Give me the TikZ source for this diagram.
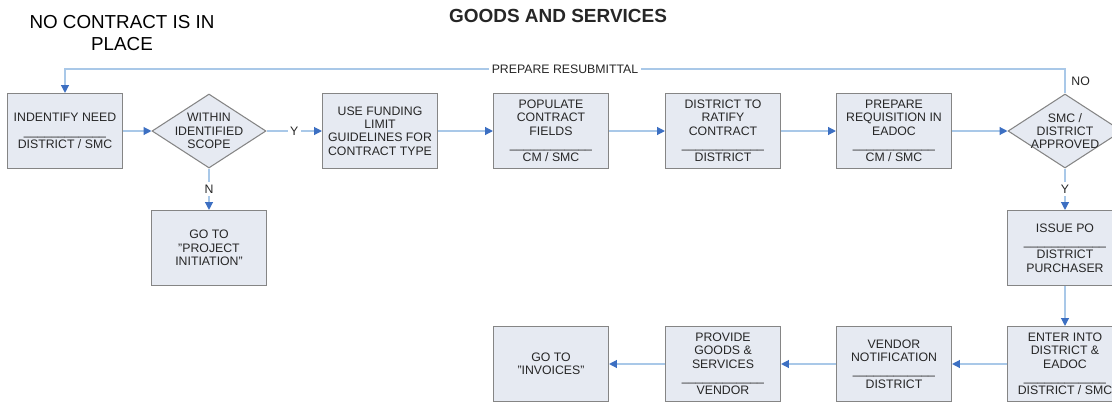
\documentclass[tikz,border=0pt]{standalone}
\usepackage{fontspec}
\setmainfont{Liberation Sans}
\usepackage{tikz}
\usetikzlibrary{shapes.geometric, arrows.meta, positioning}

\definecolor{boxfill}{HTML}{E6EAF2}
\definecolor{boxline}{HTML}{858585}
\definecolor{flowline}{HTML}{A9C8E8}
\definecolor{tipblue}{HTML}{3C6FC2}
\definecolor{inktext}{HTML}{262626}

\newcommand{\roleline}{\_\_\_\_\_\_\_\_\_\_\_\_}

\begin{document}
\begin{tikzpicture}[
        font=\fontsize{7}{7.6}\selectfont, text=inktext,
        task/.style={draw=boxline, fill=boxfill, line width=0.6pt, minimum width=2.3cm, minimum height=1.5cm, inner sep=0pt, align=center},
        decision/.style={draw=boxline, fill=boxfill, line width=0.6pt, diamond, minimum width=2.28cm, minimum height=1.48cm, inner sep=0pt},
        flow/.style={draw=flowline, line width=0.7pt, -{Stealth[inset=0pt, length=4.5pt, width=4.5pt, color=tipblue]}},
        tag/.style={fill=white, inner sep=1.5pt}
    ]
                    \useasboundingbox (0,0) rectangle (22.24,8.04);
                    \node[font=\bfseries\fontsize{10.8}{13}\selectfont] (title) at (11.16,7.72) {GOODS AND SERVICES};
                    \node[font=\fontsize{10.7}{12}\selectfont, align=center, text=black] (nocontract) at (2.44,7.38) {NO CONTRACT IS IN\\PLACE};
                    \node[task] (need) at (1.3,5.42) {INDENTIFY NEED\\\roleline\\DISTRICT / SMC};
                    \node[decision, label={[align=center]center:WITHIN\\IDENTIFIED\\SCOPE}] (scope) at (4.18,5.42) {};
                    \node[task] (funding) at (7.6,5.42) {USE FUNDING\\LIMIT\\GUIDELINES FOR\\CONTRACT TYPE};
                    \node[task] (populate) at (11.02,5.42) {POPULATE\\CONTRACT\\FIELDS\\\roleline\\CM / SMC};
                    \node[task] (ratify) at (14.46,5.42) {DISTRICT TO\\RATIFY\\CONTRACT\\\roleline\\DISTRICT};
                    \node[task] (requis) at (17.88,5.42) {PREPARE\\REQUISITION IN\\EADOC\\\roleline\\CM / SMC};
                    \node[decision, label={[align=center]center:SMC /\\DISTRICT\\APPROVED}] (approved) at (21.3,5.42) {};
                    \node[task] (initiation) at (4.18,3.08) {GO TO\\"PROJECT\\INITIATION"};
                    \node[task] (issuepo) at (21.3,3.08) {ISSUE PO\\\roleline\\DISTRICT\\PURCHASER};
                    \node[task] (enter) at (21.3,0.76) {ENTER INTO\\DISTRICT \&\\EADOC\\\roleline\\DISTRICT / SMC};
                    \node[task] (notify) at (17.88,0.76) {VENDOR\\NOTIFICATION\\\roleline\\DISTRICT};
                    \node[task] (provide) at (14.46,0.76) {PROVIDE\\GOODS \&\\SERVICES\\\roleline\\VENDOR};
                    \node[task] (invoices) at (11.02,0.76) {GO TO\\"INVOICES"};
                    \coordinate (turn) at (21.3,6.66);
                    \draw[flow] (need) -- (scope);
                    \draw[flow] (scope) -- node[tag] {Y} (funding);
                    \draw[flow] (scope) -- node[tag] {N} (initiation);
                    \draw[flow] (funding) -- (populate);
                    \draw[flow] (populate) -- (ratify);
                    \draw[flow] (ratify) -- (requis);
                    \draw[flow] (requis) -- (approved);
                    \draw[flow] (approved) -- node[tag] {Y} (issuepo);
                    \draw[flow] (approved.north) -- node[right] {NO} (turn) -| node[pos=0.25, tag] {PREPARE RESUBMITTAL} (need);
                    \draw[flow] (issuepo) -- (enter);
                    \draw[flow] (enter) -- (notify);
                    \draw[flow] (notify) -- (provide);
                    \draw[flow] (provide) -- (invoices);
                \end{tikzpicture}
\end{document}
